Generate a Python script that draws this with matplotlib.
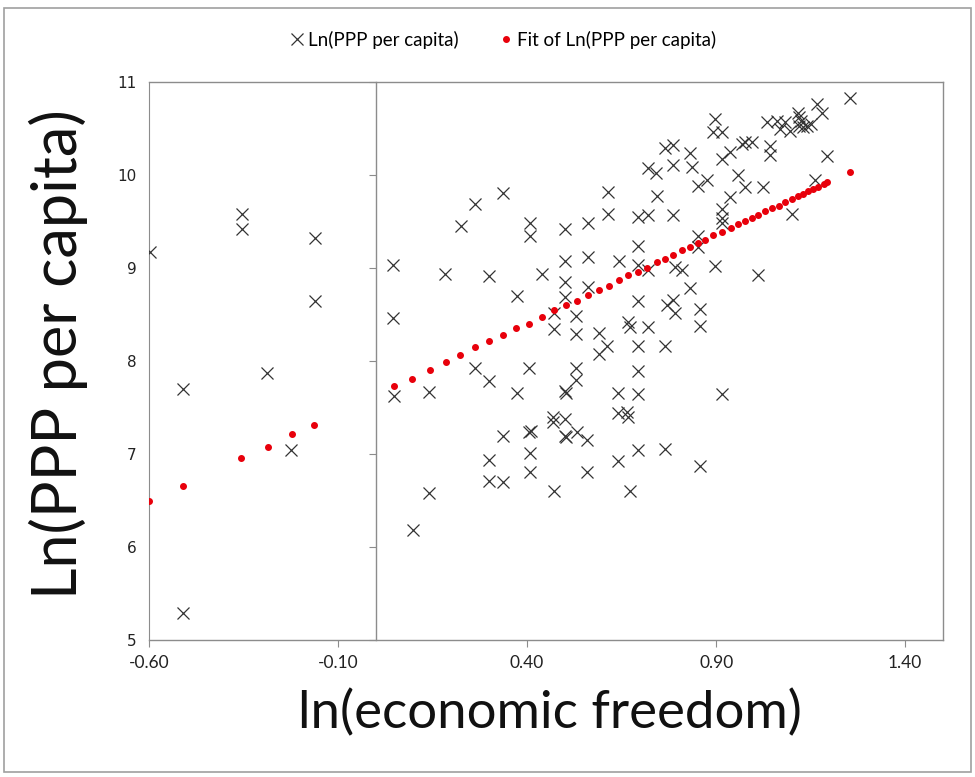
import matplotlib.pyplot as plt
from matplotlib.patches import Rectangle

# ln(economic freedom) vs Ln(PPP per capita)
x_obs = [-0.597, -0.355, -0.355, -0.161, -0.161, -0.511, -0.287, -0.224, -0.511,
         0.046, 0.046, 0.049, 0.141, 0.097, 0.141, 0.183, 0.225, 0.262, 0.335, 0.30,
         0.373, 0.262, 0.30, 0.373, 0.406, 0.408, 0.408, 0.44, 0.335, 0.30, 0.30,
         0.335, 0.406, 0.410, 0.408, 0.408, 0.47, 0.47, 0.47, 0.50, 0.50, 0.50, 0.50,
         0.50, 0.502, 0.469, 0.469, 0.50, 0.50, 0.502, 0.53, 0.53, 0.53, 0.53,
         0.532, 0.559, 0.559, 0.56, 0.56, 0.56, 0.589, 0.589, 0.613, 0.613, 0.611,
         0.644, 0.641, 0.641, 0.641, 0.665, 0.668, 0.671, 0.667, 0.672, 0.694, 0.72,
         0.694, 0.694, 0.694, 0.694, 0.694, 0.694, 0.694, 0.72, 0.741, 0.744, 0.72,
         0.72, 0.765, 0.786, 0.786, 0.786, 0.79, 0.81, 0.77, 0.786, 0.79, 0.765,
         0.765, 0.831, 0.836, 0.831, 0.852, 0.852, 0.852, 0.858, 0.858, 0.856,
         0.897, 0.892, 0.916, 0.916, 0.937, 0.937, 0.876, 0.916, 0.916, 0.915,
         0.897, 0.915, 0.959, 0.969, 0.977, 0.995, 0.977, 1.025, 1.012, 1.035,
         1.043, 1.043, 1.061, 1.07, 1.083, 1.096, 1.10, 1.117, 1.12, 1.125, 1.14,
         1.15, 1.12, 1.13, 1.167, 1.18, 1.194, 1.162, 1.254]
y_obs = [9.17, 9.585, 9.42, 9.32, 8.65, 7.70, 7.87, 7.045, 5.29,
         9.03, 8.46, 7.62, 7.67, 6.18, 6.585, 8.94, 9.45, 9.69, 9.81, 8.91,
         8.70, 7.92, 7.79, 7.655, 7.92, 9.485, 9.34, 8.94, 7.19, 6.94, 6.71,
         6.70, 7.235, 7.25, 7.01, 6.81, 8.52, 8.34, 6.60, 9.42, 9.07, 8.85, 8.69,
         7.675, 7.66, 7.40, 7.34, 7.375, 7.19, 7.18, 8.48, 8.29, 7.92, 7.80,
         7.24, 7.15, 6.81, 9.485, 9.12, 8.80, 8.30, 8.07, 9.815, 9.585, 8.16,
         9.07, 7.66, 7.44, 6.92, 7.45, 7.40, 6.60, 8.42, 8.37, 9.55, 9.57,
         9.24, 9.03, 8.64, 8.16, 7.89, 7.64, 7.04, 10.08, 10.02, 9.77, 8.98,
         8.37, 10.29, 10.32, 10.11, 9.57, 9.01, 8.98, 8.60, 8.66, 8.52, 8.16,
         7.05, 10.24, 10.09, 8.79, 9.88, 9.34, 9.23, 8.56, 8.38, 6.87,
         10.60, 10.46, 10.46, 10.17, 10.25, 9.76, 9.95, 9.63, 9.54, 9.485,
         9.02, 7.64, 10.0, 10.33, 10.35, 10.35, 9.87, 9.87, 8.93, 10.57,
         10.31, 10.22, 10.58, 10.49, 10.57, 10.47, 9.585, 10.67, 10.62, 10.58, 10.53,
         10.55, 10.53, 10.52, 10.76, 10.67, 10.20, 9.95, 10.83]

# fitted values (red dots)
x_fit = [-0.599, -0.509, -0.357, -0.284, -0.222, -0.163, 0.048, 0.095, 0.142,
         0.186, 0.223, 0.261, 0.298, 0.337, 0.371, 0.405, 0.439, 0.472, 0.503,
         0.533, 0.562, 0.589, 0.617, 0.642, 0.668, 0.694, 0.718, 0.743, 0.765,
         0.787, 0.809, 0.831, 0.853, 0.871, 0.893, 0.915, 0.938, 0.957, 0.977,
         0.994, 1.012, 1.030, 1.047, 1.065, 1.083, 1.100, 1.117, 1.131, 1.144,
         1.157, 1.170, 1.184, 1.193, 1.253]
y_fit = [6.49, 6.66, 6.96, 7.07, 7.21, 7.31, 7.73, 7.81, 7.90,
         7.985, 8.06, 8.15, 8.21, 8.28, 8.35, 8.40, 8.47, 8.545, 8.60,
         8.645, 8.71, 8.76, 8.81, 8.87, 8.92, 8.96, 9.00, 9.06, 9.10,
         9.14, 9.19, 9.23, 9.27, 9.30, 9.35, 9.39, 9.43, 9.47, 9.51,
         9.54, 9.57, 9.61, 9.64, 9.67, 9.71, 9.74, 9.77, 9.80, 9.83,
         9.85, 9.87, 9.90, 9.92, 10.03]

x_ticks = [-0.60, -0.10, 0.40, 0.90, 1.40]
y_ticks = [5, 6, 7, 8, 9, 10, 11]

grey = '#8c8c8c'
plt.rcParams['font.family'] = ['Lato', 'DejaVu Sans']

fig = plt.figure(figsize=(9.75, 7.77), dpi=100)
fig.patches.append(Rectangle((0.004, 0.006), 0.992, 0.984, transform=fig.transFigure,
                             fill=False, edgecolor='#a0a0a0', linewidth=1.2))

ax = fig.add_axes([149 / 975, 1 - 640 / 777, (943 - 149) / 975, (640 - 82) / 777])

ax.plot(x_obs, y_obs, linestyle='none', marker='x', markersize=9,
        markeredgewidth=0.9, color='#333333', label='Ln(PPP per capita)')
ax.plot(x_fit, y_fit, linestyle='none', marker='o', markersize=4.0,
        color='#e8000b', label='Fit of Ln(PPP per capita)')

ax.set_xlim(-0.6, 1.5)
ax.set_ylim(5, 11)

for s in ax.spines.values():
    s.set_color(grey)
    s.set_linewidth(1.0)
ax.spines['left'].set_position(('data', 0))

ax.set_xticks(x_ticks)
ax.set_xticklabels(['%.2f' % v for v in x_ticks])
ax.tick_params(axis='x', direction='out', length=5, color=grey, pad=6,
               labelsize=12.5, labelcolor='#222222')
ax.set_yticks(y_ticks)
ax.tick_params(axis='y', direction='out', length=5, color=grey, labelleft=False)

sec = ax.secondary_yaxis(0.0)
sec.set_yticks(y_ticks)
sec.spines['left'].set_color(grey)
sec.tick_params(axis='y', length=0, pad=9, labelcolor='#222222')
for lab in sec.get_yticklabels():
    lab.set_fontfamily('DejaVu Sans')
    lab.set_fontsize(11)

fig.text(58 / 975, 1 - 354 / 777, 'Ln(PPP per capita)', rotation=90,
         ha='center', va='center', fontsize=44, color='#111111')
fig.text(550 / 975, 1 - 713 / 777, 'ln(economic freedom)',
         ha='center', va='center', fontsize=38, color='#111111')

fig.legend(loc='center', bbox_to_anchor=(504 / 975, 1 - 40 / 777), ncol=2,
           frameon=False, fontsize=13.5, handlelength=0.6, handletextpad=0.3,
           columnspacing=2.2)

fig.savefig('out.png', dpi=100)
